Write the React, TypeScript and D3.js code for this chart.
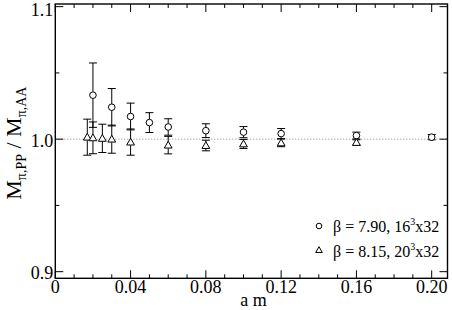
import * as React from "react";
import * as d3 from "d3";

// beta = 7.90, 16^3x32
const amCircle = [0.02, 0.03, 0.04, 0.05, 0.06, 0.08, 0.10, 0.12, 0.16, 0.20];
const ratioCircle = [1.0332, 1.0241, 1.0171, 1.0125, 1.0092, 1.0064, 1.0053, 1.0042, 1.0027, 1.0015];
const errCircle = [0.0243, 0.0141, 0.0101, 0.0075, 0.0062, 0.0052, 0.0042, 0.0038, 0.0026, 0.002];

// beta = 8.15, 20^3x32
const amTriangle = [0.017, 0.02, 0.025, 0.03, 0.04, 0.06, 0.08, 0.10, 0.12, 0.16];
const ratioTriangle = [1.0015, 1.001, 1.0006, 1.0, 0.9978, 0.9955, 0.9952, 0.9964, 0.9972, 0.9975];
const errTriangle = [0.0136, 0.012, 0.0107, 0.0106, 0.0099, 0.0066, 0.004, 0.0034, 0.0029, 0.002];

const xTickLabels = ["0", "0.04", "0.08", "0.12", "0.16", "0.20"];
const yTickLabels = ["0.9", "1.0", "1.1"];

const W = 452;
const H = 310;
const serif = { fontFamily: "Liberation Serif, Times New Roman, serif" };

export default function App() {
  const left = 55.3, right = 447.5, top = 4, bottom = 278.3;
  const x = d3.scaleLinear().domain([0, 0.2084]).range([left, right]);
  const y = d3.scaleLinear().domain([0.895, 1.102]).range([bottom, top]);

  const xMajor = xTickLabels.map(Number);
  const xMinor = d3.range(1, 21).map(i => i * 0.01).filter(v => Math.round(v * 100) % 4 !== 0);
  const yMajor = yTickLabels.map(Number);
  const yMinor = [0.95, 1.05];

  const cap = 4;
  const series = [
    { xs: amCircle, ys: ratioCircle, es: errCircle, shape: "circle" },
    { xs: amTriangle, ys: ratioTriangle, es: errTriangle, shape: "triangle" },
  ];

  const triPath = (cx: number, cy: number, s: number) =>
    `M${cx},${cy - s * 0.6} L${cx + s * 0.6},${cy + s * 0.45} L${cx - s * 0.6},${cy + s * 0.45} Z`;

  return (
    <svg width={W} height={H} style={{ position: "absolute", left: 0, top: 0 }}>
      <rect width={W} height={H} fill="#fff" />
      {/* reference line */}
      <line x1={left} x2={right} y1={y(1)} y2={y(1)} stroke="#888" strokeWidth={1} strokeDasharray="1,2" />

      {/* error bars and markers */}
      {series.map((s, si) => (
        <g key={si}>
          {s.xs.map((v, i) => {
            const cx = x(v);
            const cy = y(s.ys[i]);
            const y1 = y(s.ys[i] + s.es[i]);
            const y2 = y(s.ys[i] - s.es[i]);
            return (
              <g key={i} stroke="#000" strokeWidth={1} fill="none">
                <line x1={cx} x2={cx} y1={y1} y2={cy - 3.3} />
                <line x1={cx} x2={cx} y1={cy + 3.3} y2={y2} />
                <line x1={cx - cap} x2={cx + cap} y1={y1} y2={y1} />
                <line x1={cx - cap} x2={cx + cap} y1={y2} y2={y2} />
                {s.shape === "circle" ? (
                  <circle cx={cx} cy={cy} r={3.3} fill="#fff" />
                ) : (
                  <path d={triPath(cx, cy, 6.5)} fill="#fff" />
                )}
              </g>
            );
          })}
        </g>
      ))}

      {/* frame */}
      <rect x={left} y={top} width={right - left} height={bottom - top} fill="none" stroke="#000" strokeWidth={1.4} />

      {/* ticks */}
      <g stroke="#000" strokeWidth={1}>
        {xMajor.map((v, i) => (
          <g key={"xM" + i}>
            <line x1={x(v)} x2={x(v)} y1={bottom} y2={bottom - 8} />
            <line x1={x(v)} x2={x(v)} y1={top} y2={top + 8} />
          </g>
        ))}
        {xMinor.map((v, i) => (
          <g key={"xm" + i}>
            <line x1={x(v)} x2={x(v)} y1={bottom} y2={bottom - 4} />
            <line x1={x(v)} x2={x(v)} y1={top} y2={top + 4} />
          </g>
        ))}
        {yMajor.map((v, i) => (
          <g key={"yM" + i}>
            <line x1={left} x2={left + 8} y1={y(v)} y2={y(v)} />
            <line x1={right} x2={right - 8} y1={y(v)} y2={y(v)} />
          </g>
        ))}
        {yMinor.map((v, i) => (
          <g key={"ym" + i}>
            <line x1={left} x2={left + 4} y1={y(v)} y2={y(v)} />
            <line x1={right} x2={right - 4} y1={y(v)} y2={y(v)} />
          </g>
        ))}
      </g>

      {/* tick labels */}
      <g fontSize={18} fill="#000" style={serif}>
        {xTickLabels.map((t, i) => (
          <text key={t} x={x(xMajor[i])} y={bottom + 15} textAnchor="middle" style={serif}>{t}</text>
        ))}
        {yTickLabels.map((t, i) => (
          <text key={t} x={left - 2} y={Math.max(y(yMajor[i]) + 7.5, 16)} textAnchor="end" style={serif}>{t}</text>
        ))}
      </g>

      {/* axis titles */}
      <text x={(left + right) / 2 + 2} y={306} textAnchor="middle" fontSize={18} style={serif}>a m</text>
      <text transform={`translate(21,${(top + bottom) / 2 + 2}) rotate(-90)`} textAnchor="middle" fontSize={22} style={serif}>
        M<tspan fontSize={14} dy={5}>π,PP</tspan>
        <tspan dy={-5}> / M</tspan>
        <tspan fontSize={14} dy={5}>π,AA</tspan>
      </text>

      {/* legend */}
      <g fontSize={16} style={serif}>
        <circle cx={319} cy={226} r={2.8} fill="none" stroke="#000" strokeWidth={1} />
        <text x={333} y={231.5} style={serif}>
          β = 7.90, 16<tspan fontSize={10} dy={-7}>3</tspan><tspan dy={7}>x32</tspan>
        </text>
        <path d={triPath(319, 250, 5.5)} fill="none" stroke="#000" strokeWidth={1} />
        <text x={333} y={256.5} style={serif}>
          β = 8.15, 20<tspan fontSize={10} dy={-7}>3</tspan><tspan dy={7}>x32</tspan>
        </text>
      </g>
    </svg>
  );
}
